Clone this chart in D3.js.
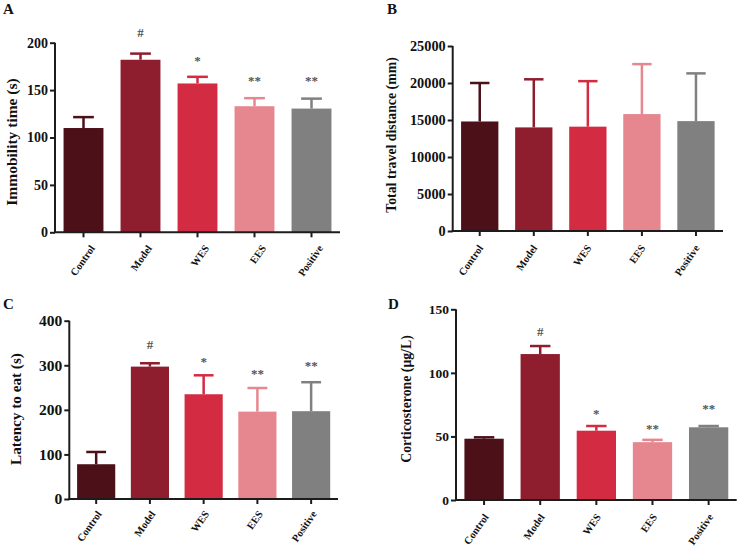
<!DOCTYPE html>
<html>
<head>
<meta charset="utf-8">
<script src="https://cdn.jsdelivr.net/npm/d3@7"></script>
<style>
  html, body { margin: 0; padding: 0; background: #fff; }
  svg { display: block; }
  text { font-family: "Liberation Serif", "Times New Roman", serif; font-weight: bold; }
</style>
</head>
<body>
<svg id="chart" width="738" height="549"></svg>
<script>
// ---------------- data ----------------
const categories = ["Control", "Model", "WES", "EES", "Positive"];
const barColors = ["#4c1019", "#8e1e2e", "#d32b41", "#e6878f", "#808080"];

const immobilityMean = [110, 182, 157, 133, 130.5];
const immobilityErr  = [11.5, 6.5, 7, 8.5, 10.5];
const immobilityTicks = [0, 50, 100, 150, 200];
const immobilityMarks = ["", "#", "*", "**", "**"];

const travelMean = [14800, 14000, 14100, 15800, 14850];
const travelErr  = [5200, 6500, 6150, 6750, 6450];
const travelTicks = [0, 5000, 10000, 15000, 20000, 25000];
const travelMarks = ["", "", "", "", ""];

const latencyMean = [78, 297, 235, 196, 197];
const latencyErr  = [27.5, 7.5, 42.5, 53, 65];
const latencyTicks = [0, 100, 200, 300, 400];
const latencyMarks = ["", "#", "*", "**", "**"];

const corticoMean = [48.2, 114.8, 54.5, 45.5, 57.2];
const corticoErr  = [1.1, 6.3, 3.7, 1.8, 1.0];
const corticoTicks = [0, 50, 100, 150];
const corticoMarks = ["", "#", "*", "**", "**"];

// ---------------- layout ----------------
const panels = [
  { letter: "A", lx: 3, ly: 14, x0: 55, x1: 340, yTop: 42.7, yBot: 232.3, max: 200,
    mean: immobilityMean, err: immobilityErr, ticks: immobilityTicks, marks: immobilityMarks,
    title: "Immobility time (s)", tx: 11, ty: 142, tFont: 15.5, tickFont: 14, pad: 0.3,
    catDx: 12, catDy: 16, markOff: [0, 17, 12, 13, 14] },
  { letter: "B", lx: 387, ly: 14, x0: 452.7, x1: 723, yTop: 46, yBot: 231, max: 25000,
    mean: travelMean, err: travelErr, ticks: travelTicks, marks: travelMarks,
    title: "Total travel distance (mm)", tx: 391, ty: 135, tFont: 13.8, tickFont: 14.3, pad: 0.31,
    catDx: 4, catDy: 17, markOff: [0, 0, 0, 0, 0] },
  { letter: "C", lx: 3, ly: 309, x0: 69.3, x1: 338, yTop: 320.7, yBot: 499, max: 400,
    mean: latencyMean, err: latencyErr, ticks: latencyTicks, marks: latencyMarks,
    title: "Latency to eat (s)", tx: 15, ty: 409, tFont: 15.2, tickFont: 15.5, pad: 0.29,
    catDx: 6, catDy: 15, markOff: [0, 14, 9, 10, 12] },
  { letter: "D", lx: 388, ly: 309, x0: 456, x1: 736.7, yTop: 309.3, yBot: 500, max: 150,
    mean: corticoMean, err: corticoErr, ticks: corticoTicks, marks: corticoMarks,
    title: "Corticosterone (\u03bcg/L)", tx: 406, ty: 399, tFont: 13.8, tickFont: 13.5, pad: 0.3,
    catDx: 5, catDy: 17, markOff: [0, 10, 8, 7, 13] }
];

const svg = d3.select("#chart");
const axisColor = "#1c1c1c";

panels.forEach(p => {
  const g = svg.append("g");
  const x = d3.scaleBand().domain(categories).range([p.x0, p.x1])
    .paddingInner(p.pad).paddingOuter(p.pad / 2);
  const y = d3.scaleLinear().domain([0, p.max]).range([p.yBot, p.yTop]);
  const rows = categories.map((c, i) => ({ c, i, m: p.mean[i], e: p.err[i], mark: p.marks[i] }));

  // panel letter
  g.append("text").attr("x", p.lx).attr("y", p.ly)
    .attr("font-size", 15).attr("fill", "#111").text(p.letter);

  // bars
  g.selectAll("rect.bar").data(rows).join("rect")
    .attr("class", "bar")
    .attr("x", d => x(d.c)).attr("width", x.bandwidth())
    .attr("y", d => y(d.m)).attr("height", d => y(0) - y(d.m))
    .attr("fill", d => barColors[d.i]);

  // error bars (upper only)
  const capHalf = x.bandwidth() * 0.26;
  const eg = g.selectAll("g.err").data(rows).join("g").attr("class", "err");
  eg.append("line")
    .attr("x1", d => x(d.c) + x.bandwidth() / 2).attr("x2", d => x(d.c) + x.bandwidth() / 2)
    .attr("y1", d => y(d.m)).attr("y2", d => y(d.m + d.e))
    .attr("stroke", d => barColors[d.i]).attr("stroke-width", 2.5);
  eg.append("line")
    .attr("x1", d => x(d.c) + x.bandwidth() / 2 - capHalf)
    .attr("x2", d => x(d.c) + x.bandwidth() / 2 + capHalf)
    .attr("y1", d => y(d.m + d.e)).attr("y2", d => y(d.m + d.e))
    .attr("stroke", d => barColors[d.i]).attr("stroke-width", 2.5);

  // significance marks
  g.selectAll("text.mark").data(rows.filter(d => d.mark)).join("text")
    .attr("class", "mark")
    .attr("x", d => x(d.c) + x.bandwidth() / 2)
    .attr("y", d => y(d.m + d.e) - p.markOff[d.i])
    .attr("text-anchor", "middle")
    .attr("font-size", 13).attr("font-weight", "normal").attr("fill", "#555")
    .text(d => d.mark);

  // y axis
  const yAxis = d3.axisLeft(y).tickValues(p.ticks).tickSize(5).tickPadding(2).tickFormat(d3.format("d"));
  const ya = g.append("g").attr("transform", `translate(${p.x0},0)`).call(yAxis);
  ya.select(".domain").attr("stroke", axisColor).attr("stroke-width", 2)
    .attr("d", `M0,${p.yTop}V${p.yBot}`);
  ya.selectAll(".tick line").attr("stroke", axisColor).attr("stroke-width", 2);
  ya.selectAll(".tick text").attr("font-size", p.tickFont)
    .attr("font-family", "'Liberation Serif', 'Times New Roman', serif")
    .attr("font-weight", "bold").attr("fill", "#111");

  // x axis
  const xAxis = d3.axisBottom(x).tickSize(5).tickFormat("");
  const xa = g.append("g").attr("transform", `translate(0,${p.yBot})`).call(xAxis);
  xa.select(".domain").attr("stroke", axisColor).attr("stroke-width", 2)
    .attr("d", `M${p.x0 - 1},0H${p.x1}`);
  xa.selectAll(".tick line").attr("stroke", axisColor).attr("stroke-width", 2);

  // category labels
  g.selectAll("text.cat").data(rows).join("text")
    .attr("class", "cat")
    .attr("text-anchor", "end")
    .attr("font-size", 10.5).attr("fill", "#111")
    .attr("transform", d => {
      const cx = x(d.c) + x.bandwidth() / 2 + p.catDx;
      const cy = p.yBot + p.catDy;
      return `translate(${cx},${cy}) rotate(-55)`;
    })
    .text(d => d.c);

  // y title
  g.append("text")
    .attr("transform", `translate(${p.tx},${p.ty}) rotate(-90)`)
    .attr("text-anchor", "middle").attr("dominant-baseline", "central")
    .attr("font-size", p.tFont).attr("fill", "#111")
    .text(p.title);
});
</script>
</body>
</html>
